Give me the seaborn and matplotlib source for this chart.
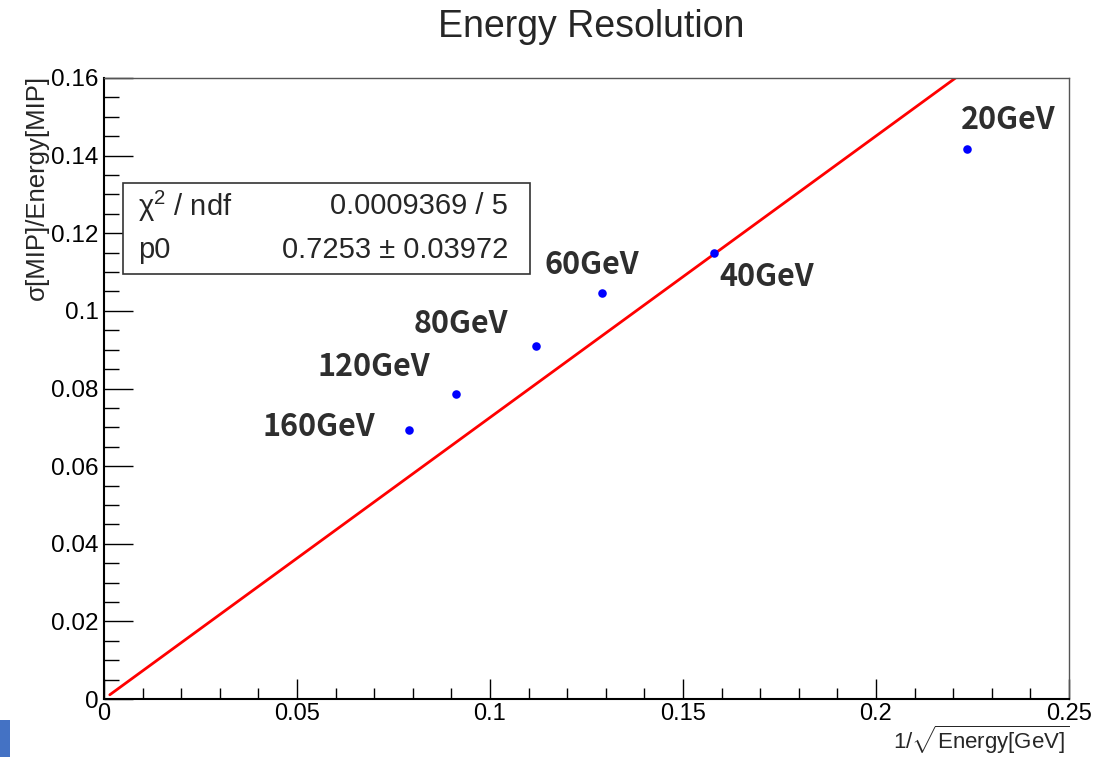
import matplotlib
matplotlib.use("Agg")
import matplotlib.pyplot as plt
import seaborn as sns
import pandas as pd
from matplotlib.ticker import MultipleLocator
from matplotlib.patches import Rectangle

# === data ===
labels = ["20GeV", "40GeV", "60GeV", "80GeV", "120GeV", "160GeV"]
inv_sqrt_e = [0.2236, 0.1581, 0.1291, 0.1118, 0.0913, 0.0791]
resolution = [0.1417, 0.1149, 0.1046, 0.0910, 0.0786, 0.0693]
p0 = 0.7253
p0_err = 0.03972
chi2_text = "0.0009369 / 5"

# label offsets (pixels) from each point
label_dx = [41, 52, -11, -75, -83, -91]
label_dy = [29, -24, 28, 22, 27, 3]

sns.set_theme(style="ticks")
plt.rcParams["font.family"] = ["Liberation Sans", "DejaVu Sans"]
plt.rcParams["mathtext.fontset"] = "custom"
plt.rcParams["mathtext.rm"] = "Liberation Sans"
plt.rcParams["mathtext.it"] = "Liberation Sans:italic"

df = pd.DataFrame({"x": inv_sqrt_e, "y": resolution, "label": labels})

fig = plt.figure(figsize=(11.04, 7.57), dpi=100)
ax = fig.add_axes([104 / 1104, 1 - 699 / 757, (1069 - 104) / 1104, (699 - 78) / 757])

# fit line y = p0 * x
fit = pd.DataFrame({"x": [0.0015, 0.25], "y": [p0 * 0.0015, p0 * 0.25]})
sns.lineplot(data=fit, x="x", y="y", ax=ax, color="#ff0000", linewidth=2, zorder=2)

sns.scatterplot(data=df, x="x", y="y", ax=ax, color="#0000ff", s=38, linewidth=0, zorder=3)

for lab, xv, yv, dx, dy in zip(labels, inv_sqrt_e, resolution, label_dx, label_dy):
    ax.annotate(lab, (xv, yv), xytext=(dx * 0.72, dy * 0.72), textcoords="offset points",
                ha="center", va="center", fontsize=22, fontweight="bold", color="#2e2e2e",
                family=["Noto Sans CJK JP", "DejaVu Sans"], annotation_clip=False)

ax.set_xlim(0, 0.25)
ax.set_ylim(0, 0.16)
ax.xaxis.set_minor_locator(MultipleLocator(0.01))
ax.yaxis.set_minor_locator(MultipleLocator(0.005))
ax.set_xticks([0, 0.05, 0.1, 0.15, 0.2, 0.25])
ax.set_xticklabels(["0", "0.05", "0.1", "0.15", "0.2", "0.25"])
ax.set_yticks([0, 0.02, 0.04, 0.06, 0.08, 0.1, 0.12, 0.14, 0.16])
ax.set_yticklabels(["0", "0.02", "0.04", "0.06", "0.08", "0.1", "0.12", "0.14", "0.16"])

ax.tick_params(axis="both", which="both", direction="in", colors="black", labelsize=17.5)
ax.tick_params(axis="y", which="major", length=21, width=1.0, pad=4)
ax.tick_params(axis="y", which="minor", length=10.8, width=1.0)
ax.tick_params(axis="x", which="major", length=14.4, width=1.0, pad=3, labelsize=17)
ax.tick_params(axis="x", which="minor", length=7.7, width=1.0)

for side in ["left", "bottom"]:
    ax.spines[side].set_color("black")
    ax.spines[side].set_linewidth(1.5)
for side in ["top", "right"]:
    ax.spines[side].set_visible(True)
    ax.spines[side].set_color("#555555")
    ax.spines[side].set_linewidth(1.0)

ax.set_xlabel("")
ax.set_ylabel("")
fig.text(1069 / 1104, 1 / 757, r"1/$\sqrt{\mathrm{Energy[GeV]}}$", ha="right", va="bottom",
         fontsize=16)
fig.text(37 / 1104, 1 - 75 / 757, "σ[MIP]/Energy[MIP]", rotation=90, ha="center", va="top",
         fontsize=18.5)

fig.text(591 / 1104, 1 - 27 / 757, "Energy Resolution", ha="center", va="center", fontsize=27)

# stats box
x0 = (123 - 104) / 965
x1 = (530 - 104) / 965
yt = (699 - 183) / 621
yb = (699 - 274) / 621
ax.add_patch(Rectangle((x0, yb), x1 - x0, yt - yb, transform=ax.transAxes, facecolor="white",
                       edgecolor="#333333", linewidth=1.2, zorder=4))
ax.text((138 - 104) / 965, (699 - 206) / 621, "χ$^{2}$ / ndf", transform=ax.transAxes,
        ha="left", va="center", fontsize=21, zorder=5)
ax.text((508 - 104) / 965, (699 - 206) / 621, chi2_text, transform=ax.transAxes,
        ha="right", va="center", fontsize=21, zorder=5)
ax.text((138 - 104) / 965, (699 - 250) / 621, "p0", transform=ax.transAxes,
        ha="left", va="center", fontsize=21, zorder=5)
ax.text((508 - 104) / 965, (699 - 250) / 621, f"{p0} ± {p0_err}", transform=ax.transAxes,
        ha="right", va="center", fontsize=21, zorder=5)

# slide artifacts
fig.patches.append(Rectangle((0, 0), 10 / 1104, 37 / 757, transform=fig.transFigure,
                             facecolor="#4472c4", edgecolor="none"))

fig.savefig("out.png", dpi=100)
